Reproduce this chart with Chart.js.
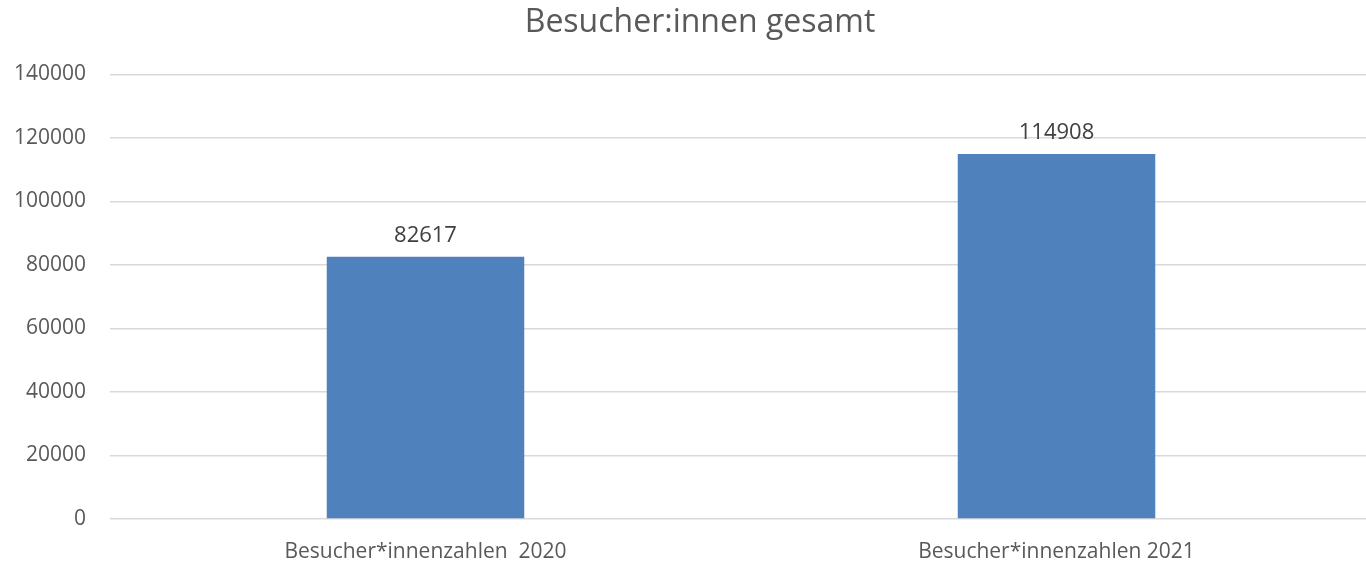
<!DOCTYPE html>
<html>
<head>
<meta charset="utf-8">
<script src="https://cdn.jsdelivr.net/npm/chart.js@4.4.1/dist/chart.umd.min.js"></script>
<style>
  html, body { margin: 0; padding: 0; background: #fff; overflow: hidden; }
  #wrap { width: 1400px; height: 561px; position: relative; }
</style>
</head>
<body>
<div id="wrap"><canvas id="c"></canvas></div>
<script>
const categories = ["Besucher*innenzahlen  2020", "Besucher*innenzahlen 2021"];
const visitors = [82617, 114908];
const chartTitle = "Besucher:innen gesamt";
const yMin = 0, yMax = 140000, yStep = 20000;

const FONT = "'Open Sans', 'Noto Sans', sans-serif";
const TEXT = "#595959";

const valueLabels = {
  id: 'valueLabels',
  afterDatasetsDraw(chart) {
    const ctx = chart.ctx;
    const meta = chart.getDatasetMeta(0);
    ctx.save();
    ctx.font = "22px " + FONT;
    ctx.fillStyle = "#404040";
    ctx.textAlign = "center";
    ctx.textBaseline = "bottom";
    meta.data.forEach((bar, i) => {
      ctx.fillText(String(chart.data.datasets[0].data[i]), bar.x, bar.y - 10);
    });
    ctx.restore();
  }
};

// centre the title over the whole chart frame (including right margin)
const titleShift = {
  id: 'titleShift',
  afterLayout(chart) {
    if (chart.titleBlock) {
      chart.titleBlock.left += 14;
      chart.titleBlock.right += 14;
    }
  }
};

new Chart(document.getElementById('c'), {
  type: 'bar',
  data: {
    labels: categories,
    datasets: [{
      data: visitors,
      backgroundColor: "#4f81bd",
      borderWidth: 0,
      categoryPercentage: 1.0,
      barPercentage: 0.313
    }]
  },
  options: {
    responsive: true,
    maintainAspectRatio: false,
    animation: false,
    layout: { padding: { left: 0, right: 28, top: 4, bottom: 0 } },
    plugins: {
      legend: { display: false },
      tooltip: { enabled: false },
      title: {
        display: true,
        text: chartTitle,
        color: TEXT,
        font: { family: FONT, size: 32, weight: 'normal' },
        padding: { top: 0, bottom: 32 }
      }
    },
    scales: {
      x: {
        grid: { display: false, drawTicks: false },
        border: { display: false },
        ticks: { color: TEXT, font: { family: FONT, size: 21 }, padding: 20 },
        afterFit(scale) { scale.height = 42; }
      },
      y: {
        min: yMin, max: yMax,
        grid: { color: "#d9d9d9", lineWidth: 1.5, drawTicks: false },
        border: { display: false },
        ticks: {
          stepSize: yStep, color: TEXT, font: { family: FONT, size: 21 }, padding: 24,
          callback: (v) => String(v)
        },
        afterFit(scale) { scale.width = 110; }
      }
    }
  },
  plugins: [valueLabels, titleShift]
});
</script>
</body>
</html>
